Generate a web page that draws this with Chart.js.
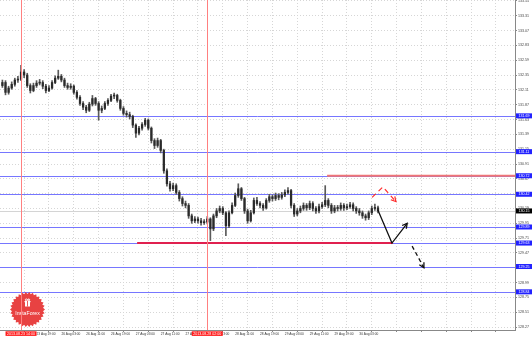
<!doctype html>
<html>
<head>
<meta charset="utf-8">
<title>EURJPY H1</title>
<script src="https://cdn.jsdelivr.net/npm/chart.js"></script>
<style>
    html, body { margin: 0; padding: 0; background: #fff; }
    #wrap { width: 532px; height: 338px; }
</style>
</head>
<body>
<div id="wrap"><canvas id="chart" width="532" height="338"></canvas></div>
<script>
// hourly bars, index 0 = 23 Aug 08:00, last = 30 Aug 09:00
var opens = [
    132.18, 132.23, 132.07, 132.14, 132.20, 132.27, 132.28, 132.40, 132.35, 132.18,
    132.10, 132.18, 132.22, 132.23, 132.17, 132.10, 132.14, 132.23, 132.30, 132.33,
    132.27, 132.18, 132.15, 132.17, 132.07, 131.99, 131.89, 131.83, 131.78, 131.88,
    131.97, 131.89, 131.78, 131.81, 131.89, 131.94, 132.01, 132.02, 131.94, 131.81,
    131.73, 131.71, 131.68, 131.54, 131.41, 131.49, 131.55, 131.62, 131.49, 131.29,
    131.21, 131.29, 131.13, 130.80, 130.59, 130.51, 130.56, 130.45, 130.35, 130.27,
    130.24, 130.07, 129.99, 130.02, 129.99, 129.96, 129.97, 130.02, 129.86, 130.07,
    130.15, 130.19, 130.12, 129.91, 130.12, 130.24, 130.40, 130.51, 130.35, 130.15,
    129.99, 130.12, 130.32, 130.27, 130.24, 130.20, 130.32, 130.38, 130.35, 130.40,
    130.37, 130.41, 130.45, 130.48, 130.24, 130.10, 130.15, 130.19, 130.24, 130.20,
    130.27, 130.19, 130.15, 130.22, 130.25, 130.32, 130.24, 130.15, 130.20, 130.19,
    130.24, 130.20, 130.22, 130.25, 130.19, 130.15, 130.12, 130.07, 130.04, 130.12,
    130.19, 130.20
];
var highs = [
    132.27, 132.26, 132.17, 132.24, 132.30, 132.33, 132.51, 132.44, 132.38, 132.21,
    132.22, 132.26, 132.28, 132.26, 132.20, 132.18, 132.26, 132.34, 132.43, 132.36,
    132.30, 132.22, 132.21, 132.19, 132.10, 132.02, 131.92, 131.86, 131.91, 132.02,
    131.99, 131.92, 131.85, 131.92, 131.97, 132.04, 132.06, 132.04, 131.96, 131.84,
    131.77, 131.75, 131.70, 131.56, 131.52, 131.58, 131.65, 131.64, 131.51, 131.32,
    131.33, 131.31, 131.15, 130.83, 130.63, 130.60, 130.59, 130.48, 130.38, 130.31,
    130.27, 130.10, 130.06, 130.05, 130.03, 130.01, 130.06, 130.04, 130.10, 130.19,
    130.23, 130.22, 130.14, 130.15, 130.28, 130.44, 130.59, 130.53, 130.37, 130.18,
    130.16, 130.36, 130.37, 130.30, 130.27, 130.35, 130.42, 130.41, 130.44, 130.43,
    130.45, 130.49, 130.53, 130.50, 130.27, 130.19, 130.23, 130.28, 130.27, 130.31,
    130.30, 130.22, 130.26, 130.29, 130.56, 130.35, 130.27, 130.24, 130.24, 130.28,
    130.27, 130.26, 130.29, 130.28, 130.22, 130.19, 130.15, 130.10, 130.15, 130.23,
    130.26, 130.23
];
var lows = [
    132.15, 132.03, 132.04, 132.12, 132.17, 132.23, 132.26, 132.31, 132.15, 132.06,
    132.08, 132.15, 132.19, 132.13, 132.06, 132.08, 132.12, 132.21, 132.28, 132.24,
    132.15, 132.12, 132.12, 132.04, 131.96, 131.86, 131.79, 131.74, 131.76, 131.85,
    131.86, 131.62, 131.74, 131.79, 131.86, 131.92, 131.97, 131.91, 131.78, 131.70,
    131.67, 131.64, 131.50, 131.34, 131.38, 131.46, 131.52, 131.46, 131.25, 131.16,
    131.18, 131.09, 130.76, 130.55, 130.47, 130.48, 130.42, 130.31, 130.23, 130.20,
    130.03, 129.95, 129.96, 129.95, 129.92, 129.93, 129.94, 129.67, 129.83, 130.04,
    130.12, 130.09, 129.75, 129.88, 130.10, 130.22, 130.37, 130.32, 130.11, 129.95,
    129.97, 130.10, 130.24, 130.20, 130.16, 130.18, 130.29, 130.31, 130.32, 130.33,
    130.34, 130.38, 130.42, 130.20, 130.06, 130.07, 130.12, 130.16, 130.16, 130.17,
    130.15, 130.11, 130.12, 130.19, 130.22, 130.20, 130.11, 130.12, 130.15, 130.16,
    130.16, 130.17, 130.19, 130.15, 130.11, 130.08, 130.03, 130.00, 130.01, 130.09,
    130.16, 130.12
];
var closes = [
    132.23, 132.07, 132.14, 132.20, 132.27, 132.28, 132.40, 132.35, 132.18, 132.10,
    132.18, 132.22, 132.23, 132.17, 132.10, 132.14, 132.23, 132.30, 132.33, 132.27,
    132.18, 132.15, 132.17, 132.07, 131.99, 131.89, 131.83, 131.78, 131.88, 131.97,
    131.89, 131.78, 131.81, 131.89, 131.94, 132.01, 132.02, 131.94, 131.81, 131.73,
    131.71, 131.68, 131.54, 131.41, 131.49, 131.55, 131.62, 131.49, 131.29, 131.21,
    131.29, 131.13, 130.80, 130.59, 130.51, 130.56, 130.45, 130.35, 130.27, 130.24,
    130.07, 129.99, 130.02, 129.99, 129.96, 129.97, 130.02, 129.86, 130.07, 130.15,
    130.19, 130.12, 129.91, 130.12, 130.24, 130.40, 130.51, 130.35, 130.15, 129.99,
    130.12, 130.32, 130.27, 130.24, 130.20, 130.32, 130.38, 130.35, 130.40, 130.37,
    130.41, 130.45, 130.48, 130.24, 130.10, 130.15, 130.19, 130.24, 130.20, 130.27,
    130.19, 130.15, 130.22, 130.25, 130.32, 130.24, 130.15, 130.20, 130.19, 130.24,
    130.20, 130.22, 130.25, 130.19, 130.15, 130.12, 130.07, 130.04, 130.12, 130.19,
    130.20, 130.15
];

// axes
var yTicks = [133.55, 133.31, 133.07, 132.83, 132.59, 132.35, 132.11, 131.87, 131.63, 131.39,
    131.15, 130.91, 130.67, 130.43, 130.19, 129.95, 129.71, 129.47, 129.23, 128.99,
    128.75, 128.51, 128.27];
var xTickIdx = [3, 11, 19, 27, 35, 43, 51, 59, 67, 75, 83, 91, 99, 107, 115,
    123, 131, 139, 147, 155, 163];
var xTickLabels = ['23 Aug 11:00', '23 Aug 19:00', '26 Aug 03:00', '26 Aug 11:00', '26 Aug 19:00',
    '27 Aug 03:00', '27 Aug 11:00', '27 Aug 19:00', '28 Aug 03:00', '28 Aug 11:00',
    '28 Aug 19:00', '29 Aug 03:00', '29 Aug 11:00', '29 Aug 19:00', '30 Aug 03:00'];

// drawn objects
var levels = [131.69, 131.11, 130.72, 130.42, 129.89, 129.63, 129.25, 128.84];
var vLines = [6, 66];
var vLineLabels = ['2013.08.23 14:00', '2013.08.28 02:00'];
var supportX = [43.4, 125.8], supportY = [129.63, 129.63];
var resistX = [104.6, 166], resistY = [130.72, 130.72];
var arrowX = [121, 125.5, 130.4], arrowY = [130.16, 129.63, 129.95];
var dashX = [132, 135.8], dashY = [129.58, 129.23];
var redX = [119.1, 122.6, 126.8], redY = [130.37, 130.54, 130.30];

function pts(xs, ys) {
    return xs.map(function (x, i) { return { x: x, y: ys[i] }; });
}

function drawLogo(ctx, cx, cy) {
    ctx.save();
    ctx.fillStyle = 'rgba(230,52,52,0.93)';
    ctx.beginPath();
    var n = 30;
    for (var k = 0; k < n * 2; k++) {
        var r = k % 2 ? 15.6 : 17.5;
        var t = k * Math.PI / n;
        ctx.lineTo(cx + r * Math.cos(t), cy + r * Math.sin(t));
    }
    ctx.closePath();
    ctx.fill();
    // gift box
    ctx.fillStyle = '#fff';
    ctx.fillRect(cx - 2.5, cy - 7.5, 5, 4.5);
    ctx.fillRect(cx - 3, cy - 8.5, 6, 1.2);
    ctx.fillStyle = 'rgba(230,52,52,1)';
    ctx.fillRect(cx - 0.4, cy - 8.5, 0.8, 5.5);
    ctx.strokeStyle = '#fff';
    ctx.lineWidth = 0.8;
    ctx.beginPath();
    ctx.arc(cx - 1.2, cy - 9.6, 1, 0, Math.PI * 2);
    ctx.arc(cx + 1.2, cy - 9.6, 1, 0, Math.PI * 2);
    ctx.stroke();
    ctx.fillStyle = '#fff';
    ctx.font = '5.2px "Liberation Sans", Arial, sans-serif';
    ctx.textAlign = 'center';
    ctx.textBaseline = 'middle';
    ctx.fillText('InstaForex', cx, cy + 4.5);
    ctx.restore();
}

function axisBox(ctx, x, y, w, h, bg, text) {
    ctx.fillStyle = bg;
    ctx.fillRect(x, y - h / 2, w, h);
    ctx.fillStyle = '#fff';
    ctx.font = '3.6px "Liberation Sans", Arial, sans-serif';
    ctx.textAlign = 'center';
    ctx.textBaseline = 'middle';
    ctx.fillText(text, x + w / 2, y + 0.2);
}

var overlay = {
    id: 'overlay',
    beforeDatasetsDraw: function (chart) {
        var ctx = chart.ctx, a = chart.chartArea;
        var ys = chart.scales.y;
        ctx.save();
        ctx.setLineDash([]);
        ctx.beginPath();
        ctx.rect(a.left, a.top, a.right - a.left, a.bottom - a.top);
        ctx.clip();
        // bid line
        var bid = Math.round(ys.getPixelForValue(closes[closes.length - 1])) + 0.5;
        ctx.strokeStyle = '#d4d4d4';
        ctx.lineWidth = 1;
        ctx.beginPath(); ctx.moveTo(a.left, bid); ctx.lineTo(a.right, bid); ctx.stroke();
        // levels
        ctx.strokeStyle = '#7676ff';
        levels.forEach(function (v) {
            var py = Math.round(ys.getPixelForValue(v)) + 0.5;
            ctx.beginPath(); ctx.moveTo(a.left, py); ctx.lineTo(a.right, py); ctx.stroke();
        });
        drawLogo(ctx, a.left + 27.5, a.top + 309.5);
        ctx.restore();
    },
    afterDatasetsDraw: function (chart) {
        var ctx = chart.ctx, a = chart.chartArea, xs = chart.scales.x;
        // vertical markers, over the logo
        ctx.save();
        ctx.fillStyle = '#ff8080';
        vLines.forEach(function (i) {
            var px = Math.round(xs.getPixelForValue(i));
            ctx.fillRect(px, a.top, 1, a.bottom - a.top);
        });
        ctx.restore();
        chart.data.datasets.forEach(function (ds, di) {
            if (!ds.arrowHead) return;
            var el = chart.getDatasetMeta(di).data;
            var p1 = el[el.length - 2], p2 = el[el.length - 1];
            var ang = Math.atan2(p2.y - p1.y, p2.x - p1.x);
            var len = 5.5, spread = 0.5;
            ctx.save();
            ctx.setLineDash([]);
            ctx.strokeStyle = ds.borderColor;
            ctx.lineWidth = ds.borderWidth;
            ctx.beginPath();
            ctx.moveTo(p2.x - len * Math.cos(ang - spread), p2.y - len * Math.sin(ang - spread));
            ctx.lineTo(p2.x, p2.y);
            ctx.lineTo(p2.x - len * Math.cos(ang + spread), p2.y - len * Math.sin(ang + spread));
            ctx.stroke();
            ctx.restore();
        });
    },
    afterDraw: function (chart) {
        var ctx = chart.ctx, a = chart.chartArea;
        var xs = chart.scales.x, ys = chart.scales.y;
        ctx.save();
        levels.forEach(function (v) {
            axisBox(ctx, a.right + 1, ys.getPixelForValue(v), 16, 5, '#2222ff', v.toFixed(2));
        });
        var last = closes[closes.length - 1];
        axisBox(ctx, a.right + 1, ys.getPixelForValue(last), 16, 5, '#000', last.toFixed(2));
        vLines.forEach(function (i, k) {
            var px = xs.getPixelForValue(i);
            axisBox(ctx, px - 15.5, a.bottom + 3.6, 31, 4.6, '#ff1c1c', vLineLabels[k]);
        });
        ctx.restore();
    }
};

var font = '"Liberation Sans", Arial, sans-serif';

new Chart(document.getElementById('chart').getContext('2d'), {
    type: 'bar',
    data: {
        datasets: [
            {
                label: 'wicks',
                data: highs.map(function (h, i) { return { x: i, y: [lows[i], h] }; }),
                backgroundColor: '#5a5a5a',
                barThickness: 1,
                grouped: false,
                minBarLength: 1,
                order: 3
            },
            {
                label: 'bodies',
                data: opens.map(function (o, i) { return { x: i, y: [o, closes[i]] }; }),
                backgroundColor: '#2a2a2a',
                barThickness: 1.6,
                grouped: false,
                minBarLength: 1,
                order: 2
            },
            {
                type: 'line', label: 'support', data: pts(supportX, supportY),
                borderColor: '#e0204f', borderWidth: 2, pointRadius: 0, order: 1
            },
            {
                type: 'line', label: 'resistance', data: pts(resistX, resistY),
                borderColor: '#f07575', borderWidth: 2, pointRadius: 0, order: 1
            },
            {
                type: 'line', label: 'path', data: pts(arrowX, arrowY), arrowHead: true,
                borderColor: '#111', borderWidth: 1.3, pointRadius: 0, order: 0
            },
            {
                type: 'line', label: 'path alt', data: pts(dashX, dashY), arrowHead: true,
                borderColor: '#111', borderWidth: 1.3, borderDash: [4, 3], pointRadius: 0, order: 0
            },
            {
                type: 'line', label: 'red path', data: pts(redX, redY), arrowHead: true,
                borderColor: '#ff2a2a', borderWidth: 1.2, borderDash: [5, 4], pointRadius: 0, order: 0
            }
        ]
    },
    options: {
        responsive: false,
        maintainAspectRatio: false,
        animation: false,
        events: [],
        layout: { padding: 0 },
        plugins: { legend: { display: false }, tooltip: { enabled: false } },
        scales: {
            x: {
                type: 'linear',
                min: -0.773,
                max: 165.14,
                offset: false,
                afterBuildTicks: function (axis) {
                    axis.ticks = xTickIdx.map(function (v) { return { value: v }; });
                },
                afterFit: function (axis) {
                    axis.height = 8;
                    axis.paddingLeft = 0;
                    axis.paddingRight = 0;
                },
                ticks: {
                    autoSkip: false,
                    maxRotation: 0,
                    minRotation: 0,
                    align: 'start',
                    padding: 0.5,
                    color: '#333',
                    font: { size: 3.2, family: font },
                    callback: function (v, i) { return xTickLabels[i] || ''; }
                },
                grid: { color: '#d6d6d6', lineWidth: 1, tickLength: 2, tickColor: '#888' },
                border: { color: '#888', width: 1, dash: [1, 2] }
            },
            y: {
                position: 'right',
                min: 128.222,
                max: 133.566,
                afterBuildTicks: function (axis) {
                    axis.ticks = yTicks.map(function (v) { return { value: v }; });
                },
                afterFit: function (axis) {
                    axis.width = 17;
                    axis.paddingTop = 0;
                    axis.paddingBottom = 0;
                },
                ticks: {
                    autoSkip: false,
                    padding: 1,
                    color: '#444',
                    font: { size: 3.6, family: font },
                    callback: function (v) { return v.toFixed(2); }
                },
                grid: { color: '#d6d6d6', lineWidth: 1, tickLength: 2, tickColor: '#888' },
                border: { color: '#888', width: 1, dash: [1, 2] }
            }
        }
    },
    plugins: [overlay]
});
</script>
</body>
</html>
